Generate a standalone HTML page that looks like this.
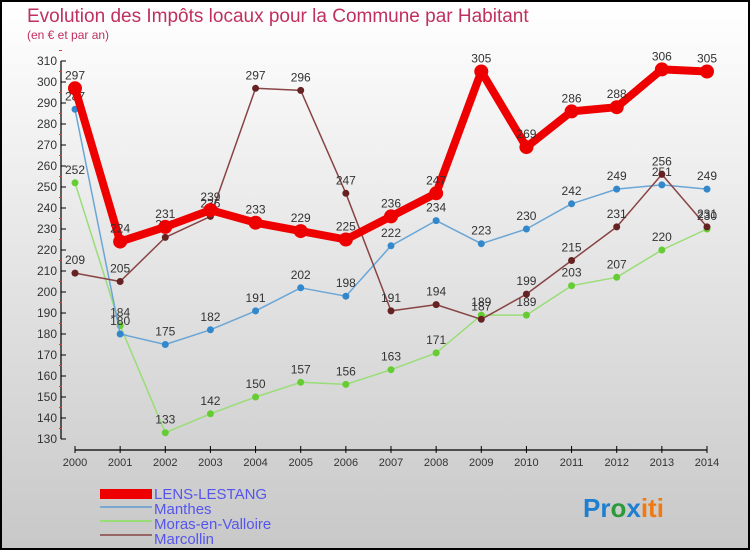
<!DOCTYPE html>
<html><head><meta charset="utf-8"><style>
body{margin:0}
#c{width:750px;height:550px;position:relative;background:linear-gradient(#ffffff,#c8c8c8);box-sizing:border-box;border:2px solid #000;overflow:hidden;font-family:"Liberation Sans",sans-serif}
</style></head><body>
<div id="c">
<svg id="s" width="750" height="550" style="position:absolute;left:-2px;top:-2px">
<text x="27" y="22" font-size="19" fill="#c0305e">Evolution des Impôts locaux pour la Commune par Habitant</text>
<text x="27" y="39" font-size="12" fill="#c0305e">(en € et par an)</text>
<g id="g"></g>
<g>
<rect x="100" y="489" width="52" height="10" fill="#e00"/>
<text x="154" y="499" font-size="15" fill="#5555ee">LENS-LESTANG</text>
<rect x="100" y="506" width="52" height="2" fill="#7aa8d0"/>
<text x="154" y="514" font-size="15" fill="#5555ee">Manthes</text>
<rect x="100" y="520" width="52" height="2" fill="#99dd77"/>
<text x="154" y="529" font-size="15" fill="#5555ee">Moras-en-Valloire</text>
<rect x="100" y="534" width="52" height="2" fill="#996666"/>
<text x="154" y="544" font-size="15" fill="#5555ee">Marcollin</text>
</g>
<text x="583" y="517" font-size="26" font-weight="bold"><tspan fill="#1e7fd0">Pr</tspan><tspan fill="#2a9a3a">o</tspan><tspan fill="#1e7fd0">x</tspan><tspan fill="#f07a10">iti</tspan></text>
</svg>
</div>
<script>
const years=[2000,2001,2002,2003,2004,2005,2006,2007,2008,2009,2010,2011,2012,2013,2014];
const lens=[297,224,231,239,233,229,225,236,247,305,269,286,288,306,305];
const manthes=[287,180,175,182,191,202,198,222,234,223,230,242,249,251,249];
const moras=[252,184,133,142,150,157,156,163,171,189,189,203,207,220,230];
const marcollin=[209,205,226,236,297,296,247,191,194,187,199,215,231,256,231];
const yTicks=[130,140,150,160,170,180,190,200,210,220,230,240,250,260,270,280,290,300,310];
const NS="http://www.w3.org/2000/svg";
const g=document.getElementById('g');
const X=i=>75+i*(632/14);
const Y=v=>439-(v-130)*2.1;
function mk(t,a){const e=document.createElementNS(NS,t);for(const k in a)e.setAttribute(k,a[k]);g.appendChild(e);return e;}
// axes
let ya=mk('line',{x1:61,y1:Y(310),x2:61,y2:Y(130),stroke:'#000','stroke-width':1.2});


let xa=mk('line',{x1:75,y1:450,x2:707,y2:450,stroke:'#000','stroke-width':1.2});


yTicks.forEach(v=>{
 mk('line',{x1:61,y1:Y(v),x2:66,y2:Y(v),stroke:'#000'});
 mk('line',{x1:59,y1:Y(v+5),x2:62,y2:Y(v+5),stroke:'#e33'});
 let t=mk('text',{x:57,y:Y(v)+4,'font-size':12,'text-anchor':'end',fill:'#333'});t.textContent=v;
 
 
});
years.forEach((yr,i)=>{
 mk('line',{x1:X(i),y1:446,x2:X(i),y2:453,stroke:'#000'});
 let t=mk('text',{x:X(i),y:466,'font-size':11,'text-anchor':'middle',fill:'#333'});t.textContent=yr;
 
 
});
function series(d,name,col,dot,w,r){
 let p=mk('polyline',{points:d.map((v,i)=>X(i)+','+Y(v)).join(' '),fill:'none',stroke:col,'stroke-width':w,'stroke-linejoin':'round'});
 
 
 d.forEach((v,i)=>{
  let c=mk('circle',{cx:X(i),cy:Y(v),r:r,fill:dot});
  
  
  let t=mk('text',{x:X(i),y:Y(v)-9,'font-size':12,'text-anchor':'middle',fill:'#333'});t.textContent=v;
  
  
 });
}
series(moras,'moras','#99dd77','#66cc33',1.5,3.5);
series(manthes,'manthes','#6aa6d6','#3388cc',1.5,3.5);
series(marcollin,'marcollin','#884444','#662222',1.5,3.5);
series(lens,'lens-lestang','#ee0000','#ee0000',8,7);
</script>
</body></html>
